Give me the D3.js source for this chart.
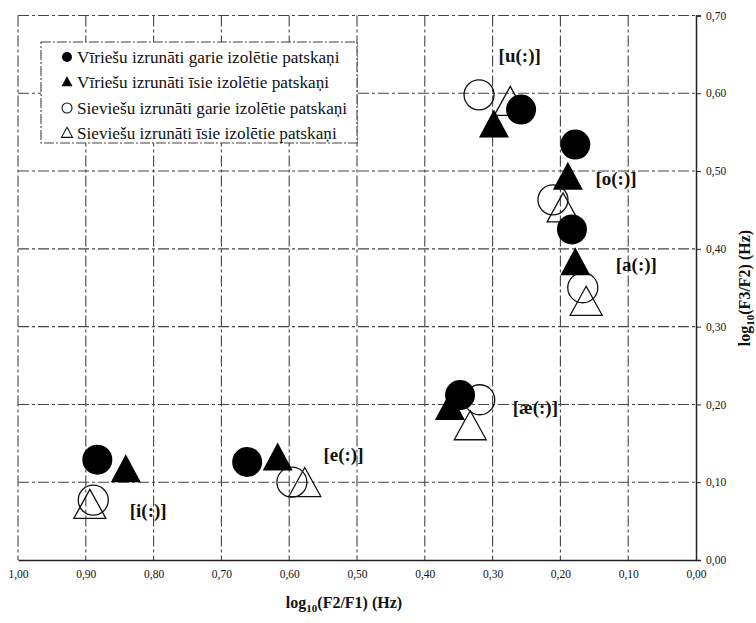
<!DOCTYPE html>
<html>
<head>
<meta charset="utf-8">
<script src="https://cdn.jsdelivr.net/npm/d3@7"></script>
<style>
  html, body { margin: 0; padding: 0; background: #fff; }
  svg { display: block; }
  text { font-family: "Liberation Serif", "Times New Roman", serif; fill: #111; }
</style>
</head>
<body>
<svg id="chart" width="756" height="623"></svg>
<script>
// ---- data ----
const xTicks = [1.0, 0.9, 0.8, 0.7, 0.6, 0.5, 0.4, 0.3, 0.2, 0.1, 0.0];
const xTickLabels = ["1,00", "0,90", "0,80", "0,70", "0,60", "0,50", "0,40", "0,30", "0,20", "0,10", "0,00"];
const yTicks = [0.0, 0.1, 0.2, 0.3, 0.4, 0.5, 0.6, 0.7];
const yTickLabels = ["0,00", "0,10", "0,20", "0,30", "0,40", "0,50", "0,60", "0,70"];

const vowels = ["[u(:)]", "[o(:)]", "[a(:)]", "[æ(:)]", "[i(:)]", "[e(:)]"];
const labelX = [0.260, 0.118, 0.088, 0.237, 0.808, 0.520];
const labelY = [0.649, 0.491, 0.380, 0.196, 0.064, 0.136];

const maleLongX  = [0.258, 0.178, 0.183, 0.348, 0.883, 0.662];
const maleLongY  = [0.579, 0.534, 0.425, 0.212, 0.129, 0.126];
const maleShortX = [0.298, 0.189, 0.178, 0.363, 0.841, 0.617];
const maleShortY = [0.555, 0.488, 0.378, 0.192, 0.112, 0.127];
const femLongX   = [0.320, 0.211, 0.167, 0.319, 0.889, 0.596];
const femLongY   = [0.598, 0.463, 0.350, 0.206, 0.077, 0.100];
const femShortX  = [0.274, 0.196, 0.162, 0.333, 0.894, 0.577];
const femShortY  = [0.584, 0.447, 0.327, 0.167, 0.066, 0.094];

const legendLabels = [
  "Vīriešu izrunāti garie izolētie patskaņi",
  "Vīriešu izrunāti īsie izolētie patskaņi",
  "Sieviešu izrunāti garie izolētie patskaņi",
  "Sieviešu izrunāti īsie izolētie patskaņi"
];

// ---- layout ----
const svg = d3.select("#chart");
const x = d3.scaleLinear().domain([1.0, 0.0]).range([18, 696]);
const y = d3.scaleLinear().domain([0.0, 0.7]).range([560, 15.5]);

const gridDash = "11,3,3,3";
// grid
svg.append("g").selectAll("line").data(xTicks.slice(0, -1)).join("line")
  .attr("x1", d => x(d)).attr("x2", d => x(d))
  .attr("y1", y(0.7)).attr("y2", y(0))
  .attr("stroke", "#444").attr("stroke-width", 1.1).attr("stroke-dasharray", gridDash);
svg.append("g").selectAll("line").data(yTicks.slice(1)).join("line")
  .attr("x1", x(1.0)).attr("x2", x(0))
  .attr("y1", d => y(d)).attr("y2", d => y(d))
  .attr("stroke", "#444").attr("stroke-width", 1.1).attr("stroke-dasharray", gridDash);

// axes
const xAxis = d3.axisBottom(x).tickValues(xTicks).tickSize(0).tickPadding(10)
  .tickFormat((d, i) => xTickLabels[i]);
const gx = svg.append("g").attr("transform", `translate(0,${y(0)})`).call(xAxis);
gx.select(".domain").attr("stroke", "#222").attr("stroke-width", 1.5);
gx.selectAll("text").attr("font-size", 11.5).attr("font-family", "Liberation Serif").attr("fill", "#111");

const yAxis = d3.axisRight(y).tickValues(yTicks).tickSize(5).tickPadding(5)
  .tickFormat((d, i) => yTickLabels[i]);
const gy = svg.append("g").attr("transform", `translate(${x(0)},0)`).call(yAxis);
gy.select(".domain").attr("stroke", "#222").attr("stroke-width", 1.5);
gy.selectAll("line").attr("stroke", "#222");
gy.selectAll("text").attr("font-size", 11.5).attr("font-family", "Liberation Serif").attr("fill", "#111");

// axis titles
const xt = svg.append("text").attr("x", 344).attr("y", 608).attr("text-anchor", "middle")
  .attr("font-size", 16).attr("font-weight", "bold");
xt.append("tspan").text("log");
xt.append("tspan").text("10").attr("font-size", 11).attr("dy", 4);
xt.append("tspan").text("(F2/F1) (Hz)").attr("dy", -4);

const yt = svg.append("text").attr("transform", "translate(750,288) rotate(-90)")
  .attr("text-anchor", "middle").attr("font-size", 16).attr("font-weight", "bold");
yt.append("tspan").text("log");
yt.append("tspan").text("10").attr("font-size", 11).attr("dy", 4);
yt.append("tspan").text("(F3/F2) (Hz)").attr("dy", -4);

// markers
const R = 15;
function tri(cx, cy, h, hw) {
  return `M${cx},${cy - 2 * h / 3}L${cx + hw},${cy + h / 3}L${cx - hw},${cy + h / 3}Z`;
}
const idx = d3.range(vowels.length);
const pts = svg.append("g");
pts.selectAll(".fl").data(idx).join("circle").attr("class", "fl")
  .attr("cx", i => x(femLongX[i])).attr("cy", i => y(femLongY[i])).attr("r", R)
  .attr("fill", "none").attr("stroke", "#111").attr("stroke-width", 1.3);
pts.selectAll(".fs").data(idx).join("path").attr("class", "fs")
  .attr("d", i => tri(x(femShortX[i]), y(femShortY[i]), 29, 16))
  .attr("fill", "none").attr("stroke", "#111").attr("stroke-width", 1.3);
pts.selectAll(".ml").data(idx).join("circle").attr("class", "ml")
  .attr("cx", i => x(maleLongX[i])).attr("cy", i => y(maleLongY[i])).attr("r", R)
  .attr("fill", "#000");
pts.selectAll(".ms").data(idx).join("path").attr("class", "ms")
  .attr("d", i => tri(x(maleShortX[i]), y(maleShortY[i]), 28, 15))
  .attr("fill", "#000");

// vowel labels
svg.append("g").selectAll("text").data(idx).join("text")
  .attr("x", i => x(labelX[i])).attr("y", i => y(labelY[i]))
  .attr("text-anchor", "middle").attr("dominant-baseline", "central")
  .attr("font-size", 19).attr("font-weight", "bold")
  .text(i => vowels[i]);

// legend
const lg = svg.append("g");
lg.append("rect").attr("x", 41).attr("y", 42).attr("width", 316).attr("height", 101)
  .attr("fill", "#fff").attr("stroke", "#444").attr("stroke-width", 1.1).attr("stroke-dasharray", "10,2,2,2");
const rowY = [57, 82, 108, 133];
legendLabels.forEach((t, i) => {
  const cx = 67, cy = rowY[i];
  if (i === 0) lg.append("circle").attr("cx", cx).attr("cy", cy).attr("r", 5).attr("fill", "#000");
  if (i === 1) lg.append("path").attr("d", tri(cx, cy + 1, 10, 5.5)).attr("fill", "#000");
  if (i === 2) lg.append("circle").attr("cx", cx).attr("cy", cy).attr("r", 5).attr("fill", "none").attr("stroke", "#111").attr("stroke-width", 1.1);
  if (i === 3) lg.append("path").attr("d", tri(cx, cy + 1, 10, 5.5)).attr("fill", "none").attr("stroke", "#111").attr("stroke-width", 1.1);
  lg.append("text").attr("x", 77).attr("y", cy).attr("dominant-baseline", "central")
    .attr("font-size", 17.2).text(t);
});
</script>
</body>
</html>
